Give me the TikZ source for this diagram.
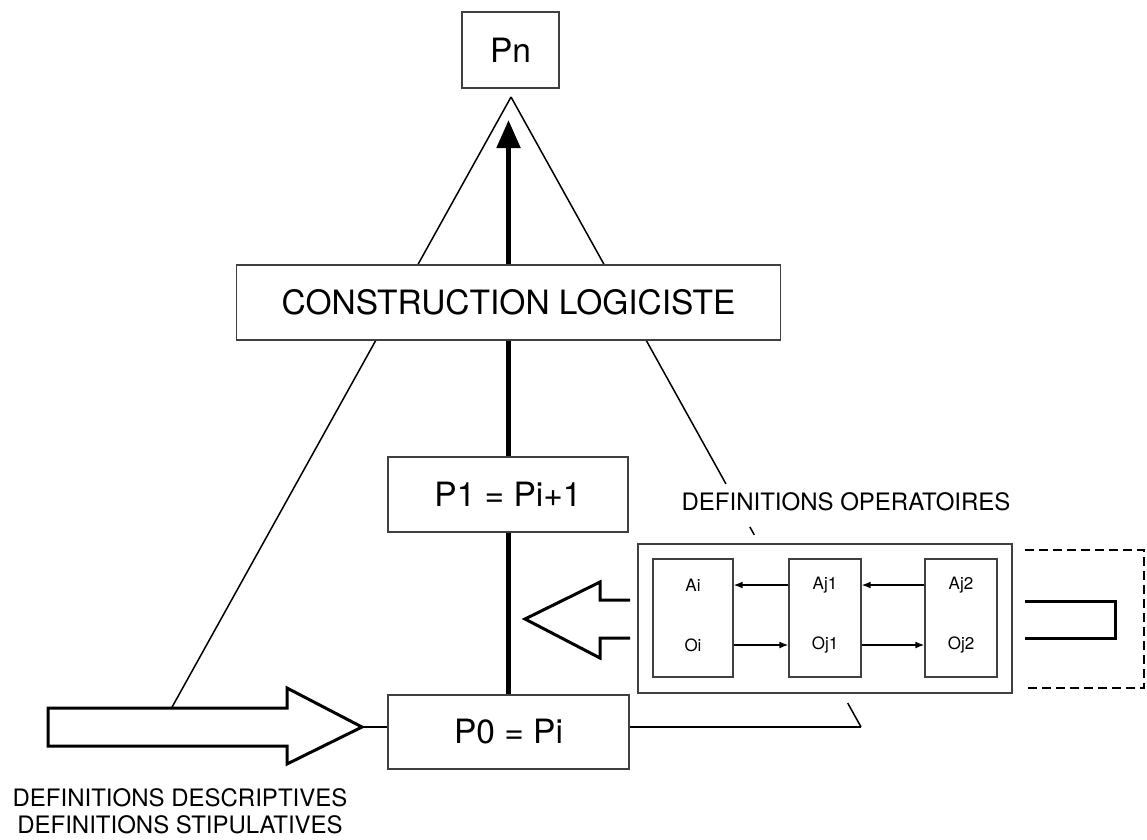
\documentclass[tikz,border=0pt]{standalone}
\usepackage{fontspec}
\setmainfont{TeX Gyre Heros}
\usetikzlibrary{arrows.meta,backgrounds,calc}
\begin{document}
\begin{tikzpicture}[x=1pt,y=-1pt,
  box/.style={draw=black!75,line width=1.3pt,fill=white,rectangle,inner sep=0pt},
  bigfont/.style={font=\fontsize{33.5}{40}\selectfont},
  midfont/.style={font=\fontsize{24}{27}\selectfont},
  smallfont/.style={font=\fontsize{17}{20}\selectfont},
  tri/.style={line width=1.5pt,black},
  hollow/.style={line width=3pt,line join=miter,black},
  small arrow/.style={line width=1.4pt,-{Latex[length=9pt,width=7pt]}}]
\useasboundingbox (0,0) rectangle (1147,839);
% main nodes
\node[box,bigfont,minimum width=97pt,minimum height=76pt] (pn) at (510.5,50) {Pn};
\node[box,bigfont,minimum width=544pt,minimum height=75pt] (cl) at (508.5,302.5) {CONSTRUCTION LOGICISTE};
\node[box,bigfont,minimum width=240pt,minimum height=75pt] (p1) at (508,494.5) {P1 = Pi+1};
\node[box,bigfont,minimum width=241pt,minimum height=74pt] (p0) at (508.5,732) {P0 = Pi};
% triangle corners
\coordinate (apex) at (511,97);
\coordinate (bl) at (161,727);
\coordinate (br) at (861,727);
\coordinate (tipc) at (0,120);
% operatoires
\node[box,minimum width=374pt,minimum height=149pt] (outer) at (825,618.5) {};
\node[box,minimum width=80pt,minimum height=118pt] (b1) at (693,618) {};
\node[box,minimum width=72pt,minimum height=118pt] (b2) at (825,618) {};
\node[box,minimum width=72pt,minimum height=118pt] (b3) at (961,618) {};
\node[smallfont] (ai) at (693,585) {Ai};
\node[smallfont] (oi) at (693,645) {Oi};
\node[smallfont] (aj1) at (825,585) {Aj1};
\node[smallfont] (oj1) at (825,645) {Oj1};
\node[smallfont] (aj2) at (961,585) {Aj2};
\node[smallfont] (oj2) at (961,645) {Oj2};
\draw[small arrow] (b2.west |- ai) -- (b1.east |- ai);
\draw[small arrow] (b3.west |- aj1) -- (b2.east |- aj1);
\draw[small arrow] (b1.east |- oi) -- (b2.west |- oi);
\draw[small arrow] (b2.east |- oj1) -- (b3.west |- oj1);
\node[midfont] (defop) at (846,502) {DEFINITIONS OPERATOIRES};
% U shape and dashed box
\draw[hollow] (1025,601) -- (1115,601) -- (1115,638) -- (1025,638);
\draw[line width=2.4pt,dash pattern=on 9pt off 5pt] (1025,550) -- (1144,550) -- (1144,688) -- (1025,688);
% left hollow arrow
\draw[hollow,fill=white] (630,600) -- (600,600) -- (600,582) -- (525,619) -- (600,658) -- (600,638) -- (630,638);
% big hollow arrow
\draw[hollow,fill=white] (48,708) -- (287,708) -- (287,688) -- (362,727) -- (287,764) -- (287,746) -- (48,746) -- cycle;
\node[midfont,align=center] (defdesc) at (180,811) {DEFINITIONS DESCRIPTIVES\\DEFINITIONS STIPULATIVES};
% background lines
\begin{pgfonlayer}{background}
\draw[tri] (apex) -- (bl);
\draw[tri] (bl) -- (br);
\draw[tri] (apex) -- ($(apex)!0.614!(br)$);
\draw[tri] ($(apex)!0.6825!(br)$) -- ($(apex)!0.695!(br)$);
\draw[tri] ($(apex)!0.962!(br)$) -- (br);
\draw[line width=5pt,-{Triangle[length=28pt,width=23pt]}] (p0.north) -- (p0.north |- tipc);
\end{pgfonlayer}
\end{tikzpicture}
\end{document}
